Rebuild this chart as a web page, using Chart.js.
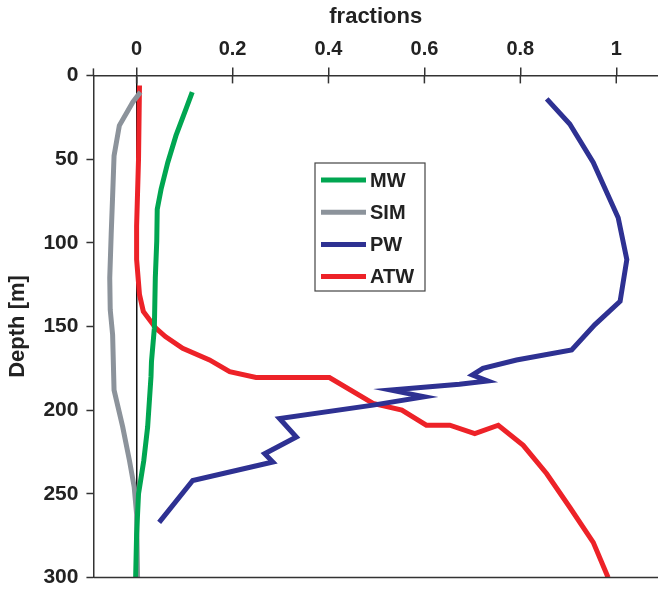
<!DOCTYPE html>
<html><head><meta charset="utf-8">
<script src="https://cdn.jsdelivr.net/npm/chart.js@4/dist/chart.umd.min.js"></script>
<style>html,body{margin:0;padding:0;background:#fff}</style>
</head><body>
<canvas id="c" width="658" height="595" style="display:block;width:658px;height:595px"></canvas>
<script>
// ---- data (fraction vs depth [m]) ----
const xTickValues = [0, 0.2, 0.4, 0.6, 0.8, 1];
const xTickLabels = ['0', '0.2', '0.4', '0.6', '0.8', '1'];
const yTickValues = [0, 50, 100, 150, 200, 250, 300];

const seriesNames = ['MW', 'SIM', 'PW', 'ATW'];

const mwDepth = [10, 20, 36, 52, 68, 80, 99, 121, 151, 171, 180, 210, 230, 250, 274, 300];
const mwFrac  = [0.116, 0.103, 0.082, 0.065, 0.051, 0.043, 0.042, 0.039, 0.037, 0.031, 0.030, 0.023, 0.015, 0.004, 0.0, -0.002];

const simDepth = [10, 16, 30, 48, 72, 95, 121, 140, 155, 188, 210, 230, 246, 262, 300];
const simFrac  = [0.008, -0.008, -0.036, -0.047, -0.050, -0.053, -0.056, -0.055, -0.050, -0.047, -0.029, -0.015, -0.005, 0.0, 0.002];

const pwDepth = [14, 29, 52, 85, 110, 135, 149, 164, 170, 175, 179, 182.5, 184.5, 188, 192, 197, 205, 216, 226, 231, 242, 267];
const pwFrac  = [0.855, 0.903, 0.952, 1.004, 1.022, 1.008, 0.955, 0.907, 0.792, 0.722, 0.700, 0.732, 0.673, 0.530, 0.600, 0.493, 0.298, 0.333, 0.267, 0.284, 0.117, 0.047];

const atwDepth = [6, 50, 90, 110, 131, 141, 151, 156, 163, 170, 177, 180.5, 180.5, 196, 200, 209, 209, 214, 209, 221, 238, 258, 279, 300];
const atwFrac  = [0.006, 0.004, 0.0, 0.0, 0.006, 0.014, 0.040, 0.060, 0.096, 0.152, 0.194, 0.249, 0.402, 0.493, 0.553, 0.604, 0.653, 0.705, 0.754, 0.806, 0.855, 0.903, 0.952, 0.983];

const colors = ['#00a651', '#8c939b', '#2e3192', '#ed2228'];

function pts(depth, frac) { return depth.map((d, i) => ({ x: frac[i], y: d })); }
const seriesData = [pts(mwDepth, mwFrac), pts(simDepth, simFrac), pts(pwDepth, pwFrac), pts(atwDepth, atwFrac)];

const FONT = '"Liberation Sans", Arial, Helvetica, sans-serif';
const AXIS = '#333333';

const framePlugin = {
  id: 'frame',
  afterDatasetsDraw(chart) {
    const ctx = chart.ctx, a = chart.chartArea;
    const xs = chart.scales.x;
    ctx.save();
    ctx.strokeStyle = AXIS; ctx.lineWidth = 1.5;
    ctx.beginPath(); ctx.moveTo(a.left, a.bottom); ctx.lineTo(a.right, a.bottom); ctx.stroke();
    xTickValues.forEach(v => {
      const px = xs.getPixelForValue(v);
      ctx.beginPath(); ctx.moveTo(px, a.top); ctx.lineTo(px, a.top + 8); ctx.stroke();
    });
    ctx.beginPath(); ctx.moveTo(a.left, a.top); ctx.lineTo(a.left, a.top - 7); ctx.stroke();
    ctx.restore();

    // legend box
    const bx = 315, by = 163, bw = 110, bh = 128;
    ctx.save();
    ctx.fillStyle = '#fff';
    ctx.fillRect(bx, by, bw, bh);
    ctx.strokeStyle = '#444'; ctx.lineWidth = 1.2;
    ctx.strokeRect(bx, by, bw, bh);
    ctx.font = 'bold 20px ' + FONT;
    ctx.textBaseline = 'middle';
    chart.data.datasets.forEach((ds, i) => {
      const yy = 180 + i * 32.2;
      ctx.strokeStyle = ds.borderColor; ctx.lineWidth = 5;
      ctx.beginPath(); ctx.moveTo(321, yy); ctx.lineTo(366, yy); ctx.stroke();
      ctx.fillStyle = '#222';
      ctx.fillText(ds.label, 370, yy + 1);
    });
    ctx.restore();
  }
};

new Chart(document.getElementById('c'), {
  type: 'scatter',
  data: {
    datasets: seriesNames.map((n, i) => ({
      label: n,
      data: seriesData[i],
      showLine: true,
      borderColor: colors[i],
      backgroundColor: colors[i],
      borderWidth: 5,
      pointRadius: 0,
      pointHoverRadius: 0,
      tension: 0,
      fill: false
    }))
  },
  options: {
    responsive: false,
    animation: false,
    events: [],
    layout: { padding: { left: 0, right: 0, top: 0, bottom: 0 } },
    plugins: { legend: { display: false }, tooltip: { enabled: false } },
    scales: {
      x: {
        type: 'linear',
        position: 'top',
        min: -0.09,
        max: 1.087,
        afterBuildTicks: (s) => { s.ticks = xTickValues.map(v => ({ value: v })); },
        ticks: {
          font: { family: FONT, size: 20, weight: 'bold' },
          color: '#222',
          padding: 6,
          maxRotation: 0,
          callback: (v) => { const k = xTickValues.indexOf(v); return k >= 0 ? xTickLabels[k] : ''; }
        },
        grid: {
          drawOnChartArea: true,
          color: (c) => (c.tick && c.tick.value === 0 ? '#111' : 'rgba(0,0,0,0)'),
          lineWidth: 1.5,
          tickLength: 8,
          tickColor: AXIS,
          tickWidth: 1.5
        },
        border: { display: true, color: AXIS, width: 1.5 },
        title: {
          display: true,
          text: 'fractions',
          font: { family: FONT, size: 22, weight: 'bold' },
          color: '#222',
          padding: { top: 4, bottom: 1 }
        }
      },
      y: {
        type: 'linear',
        reverse: true,
        min: 0,
        max: 300,
        afterBuildTicks: (s) => { s.ticks = yTickValues.map(v => ({ value: v })); },
        ticks: {
          font: { family: FONT, size: 21, weight: 'bold', lineHeight: 0.9 },
          color: '#222',
          padding: 8
        },
        grid: {
          drawOnChartArea: false,
          tickLength: 7,
          tickColor: AXIS,
          tickWidth: 1.5
        },
        border: { display: true, color: AXIS, width: 1.5 },
        title: {
          display: true,
          text: 'Depth [m]',
          font: { family: FONT, size: 22, weight: 'bold' },
          color: '#222',
          padding: { top: 5, bottom: 4 }
        }
      }
    }
  },
  plugins: [framePlugin]
});
</script>
</body></html>
